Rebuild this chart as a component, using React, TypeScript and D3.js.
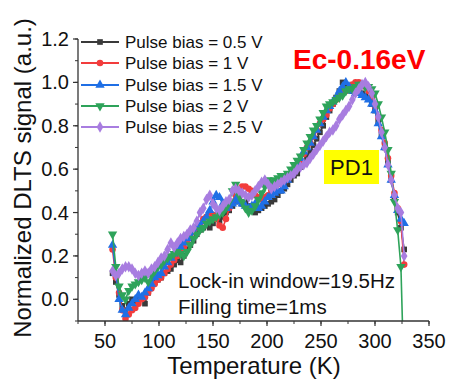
import React from "react";
import * as d3 from "d3";

const temps = [57,60,63,66,69,72,75,78,81,84,87,90,93,96,99,102,105,108,111,114,117,120,123,126,129,132,135,138,141,144,147,150,153,156,159,162,165,168,171,174,177,180,183,186,189,192,195,198,201,204,207,210,213,216,219,222,225,228,231,234,237,240,243,246,249,252,255,258,261,264,267,270,273,276,279,282,285,288,291,294,297,300,303,306,309,312,315,318,321,324,327];

const bias05 = [0.12,0.08,0.02,-0.03,-0.05,-0.02,0.0,-0.01,0.0,0.01,
-0.02,0.03,0.06,0.08,0.09,0.10,0.12,0.13,0.14,0.16,
0.18,0.17,0.20,0.23,0.25,0.27,0.30,0.32,0.33,0.34,
0.33,0.35,0.37,0.36,0.38,0.40,0.41,0.43,0.45,0.46,
0.44,0.45,0.43,0.42,0.40,0.41,0.42,0.43,0.44,0.45,
0.46,0.48,0.50,0.51,0.53,0.55,0.57,0.58,0.61,0.63,
0.66,0.68,0.71,0.74,0.77,0.80,0.84,0.87,0.90,0.93,
0.96,1.0,0.98,0.97,0.96,0.97,0.96,0.95,0.94,0.93,
0.90,0.87,0.82,0.76,0.70,0.63,0.55,0.47,0.40,0.33,
0.23];

const bias1 = [0.23,0.10,0.03,-0.05,-0.09,-0.07,-0.05,-0.04,-0.02,0.0,
0.01,0.03,0.05,0.07,0.09,0.10,0.12,0.14,0.16,0.18,
0.20,0.22,0.24,0.27,0.29,0.31,0.33,0.35,0.37,0.38,
0.40,0.39,0.37,0.34,0.33,0.37,0.42,0.45,0.48,0.51,
0.52,0.52,0.51,0.50,0.48,0.47,0.46,0.47,0.48,0.50,
0.52,0.53,0.55,0.56,0.57,0.58,0.60,0.62,0.64,0.67,
0.70,0.72,0.75,0.78,0.81,0.83,0.85,0.88,0.90,0.92,
0.94,0.95,0.96,0.97,0.99,1.0,1.0,0.99,0.98,0.96,
0.93,0.89,0.84,0.78,0.72,0.65,0.57,0.49,0.42,0.36,
0.16];

const bias15 = [0.25,0.12,0.0,-0.05,-0.07,-0.04,-0.02,0.0,0.02,0.01,
0.03,0.05,0.07,0.10,0.11,0.12,0.15,0.17,0.19,0.21,
0.23,0.24,0.26,0.28,0.29,0.31,0.33,0.34,0.36,0.38,
0.41,0.45,0.48,0.47,0.44,0.42,0.43,0.44,0.46,0.45,
0.44,0.43,0.42,0.43,0.44,0.42,0.43,0.45,0.47,0.48,
0.49,0.50,0.50,0.52,0.55,0.58,0.60,0.62,0.65,0.68,
0.70,0.72,0.75,0.78,0.81,0.84,0.87,0.89,0.91,0.93,
0.96,0.98,1.0,0.98,0.96,0.95,0.95,0.94,0.93,0.92,
0.90,0.87,0.81,0.75,0.70,0.62,0.55,0.48,0.41,0.37,
0.35];

const bias2 = [0.30,0.15,0.06,0.02,0.0,0.04,0.06,0.07,0.08,0.09,
0.10,0.08,0.11,0.13,0.15,0.16,0.18,0.19,0.20,0.21,
0.22,0.21,0.20,0.22,0.25,0.28,0.30,0.32,0.33,0.35,
0.36,0.37,0.38,0.39,0.40,0.42,0.45,0.50,0.53,0.48,
0.45,0.42,0.40,0.41,0.43,0.46,0.49,0.52,0.55,0.54,
0.55,0.56,0.57,0.57,0.58,0.60,0.62,0.64,0.66,0.69,
0.72,0.75,0.78,0.80,0.83,0.86,0.89,0.90,0.91,0.92,
0.93,0.94,0.96,0.97,0.97,0.98,0.99,0.99,0.98,0.98,
0.97,0.95,0.90,0.84,0.77,0.69,0.58,0.45,0.32,0.15,
-0.40];

const bias25 = [0.13,0.11,0.12,0.14,0.15,0.15,0.14,0.12,0.11,0.12,
0.13,0.12,0.14,0.15,0.17,0.19,0.20,0.23,0.26,0.24,
0.26,0.28,0.29,0.30,0.32,0.33,0.36,0.40,0.42,0.46,
0.48,0.44,0.42,0.41,0.43,0.45,0.46,0.50,0.51,0.50,
0.49,0.48,0.47,0.48,0.50,0.52,0.54,0.55,0.53,0.51,
0.52,0.53,0.54,0.55,0.56,0.57,0.58,0.60,0.61,0.62,
0.63,0.65,0.67,0.69,0.71,0.73,0.75,0.77,0.78,0.80,
0.83,0.85,0.87,0.89,0.92,0.95,0.97,0.99,1.0,0.98,
0.95,0.90,0.84,0.77,0.70,0.62,0.55,0.48,0.42,0.40,
0.20];

const seriesNames = ["Pulse bias = 0.5 V","Pulse bias = 1 V","Pulse bias = 1.5 V","Pulse bias = 2 V","Pulse bias = 2.5 V"];
const seriesValues = [bias05, bias1, bias15, bias2, bias25];
const seriesColors = ["#3a3a3a","#f23c3c","#1f6fe5","#2ea35a","#a87de0"];
const xTicks = [50,100,150,200,250,300,350];
const yTicks = [0.0,0.2,0.4,0.6,0.8,1.0,1.2];

const FONT = "'Liberation Sans', Arial, sans-serif";

const L = 78, R = 429, T = 39, B = 321;

function markerPath(i: number): {d: string; rot: number} {
  const types = [d3.symbolSquare, d3.symbolCircle, d3.symbolTriangle, d3.symbolTriangle, d3.symbolDiamond];
  const sizes = [32, 34, 38, 38, 38];
  return { d: d3.symbol().type(types[i]).size(sizes[i])() as string, rot: i === 3 ? 180 : 0 };
}

export default function App() {
  const x = d3.scaleLinear().domain([25, 350]).range([L, R]);
  const y = d3.scaleLinear().domain([-0.1, 1.2]).range([B, T]);
  const line = d3.line<number>().x((_, i) => x(temps[i])).y((v) => y(v));
  const xMinor = d3.range(25, 351, 25);
  const yMinor = d3.range(-0.1, 1.201, 0.1);

  return (
    <svg width={451} height={379} style={{ position: "absolute", left: 0, top: 0, background: "#fff" }} fontFamily={FONT}>
      <defs>
        <clipPath id="plot"><rect x={L} y={T} width={R - L} height={B - T} /></clipPath>
      </defs>
      <rect x={0} y={0} width={451} height={379} fill="#fff" />
      <g clipPath="url(#plot)">
        {seriesValues.map((vals, si) => {
          const m = markerPath(si);
          return (
            <g key={si}>
              <path d={line(vals) as string} fill="none" stroke={seriesColors[si]} strokeWidth={1.6} />
              {vals.map((v, i) => (
                <path key={i} d={m.d} fill={seriesColors[si]}
                  transform={`translate(${x(temps[i])},${y(v)}) rotate(${m.rot})`} />
              ))}
            </g>
          );
        })}
      </g>
      <line x1={L} x2={L} y1={T} y2={B} stroke="#333" strokeWidth={1.3} />
      <line x1={L} x2={R} y1={B} y2={B} stroke="#333" strokeWidth={1.3} />
      {yMinor.map((v, i) => (
        <line key={"ym" + i} x1={L - 3} x2={L} y1={y(v)} y2={y(v)} stroke="#333" strokeWidth={1} />
      ))}
      {yTicks.map((v) => (
        <g key={"yt" + v}>
          <line x1={L - 5} x2={L} y1={y(v)} y2={y(v)} stroke="#333" strokeWidth={1.2} />
          <text x={69} y={y(v) + 7} textAnchor="end" fontSize={20} fill="#111">{v.toFixed(1)}</text>
        </g>
      ))}
      {xMinor.map((v) => (
        <line key={"xm" + v} x1={x(v)} x2={x(v)} y1={B} y2={B + 3} stroke="#333" strokeWidth={1} />
      ))}
      {xTicks.map((v) => (
        <g key={"xt" + v}>
          <line x1={x(v)} x2={x(v)} y1={B} y2={B + 5} stroke="#333" strokeWidth={1.2} />
          <text x={x(v)} y={348} textAnchor="middle" fontSize={20} fill="#111">{v}</text>
        </g>
      ))}
      <text x={254} y={374} textAnchor="middle" fontSize={24} fill="#111">Temperature (K)</text>
      <text transform="translate(31,178) rotate(-90)" textAnchor="middle" fontSize={24} fill="#111">Normalized DLTS signal (a.u.)</text>
      {seriesNames.map((name, i) => {
        const ly = [42, 63, 85, 106, 127][i];
        const m = markerPath(i);
        return (
          <g key={"lg" + i}>
            <line x1={81} x2={119} y1={ly} y2={ly} stroke={seriesColors[i]} strokeWidth={2} />
            <path d={m.d} fill={seriesColors[i]} transform={`translate(100,${ly}) rotate(${m.rot})`} />
            <text x={125} y={ly + 6} fontSize={17} fill="#111">{name}</text>
          </g>
        );
      })}
      <text x={293} y={69} fontSize={28} fontWeight="bold" fill="#f00">Ec-0.16eV</text>
      <rect x={324} y={150} width={55} height={34} fill="#ffff00" />
      <text x={351.5} y={175} textAnchor="middle" fontSize={22} fill="#111">PD1</text>
      <text x={178} y={288} fontSize={20.5} fill="#111">Lock-in window=19.5Hz</text>
      <text x={178} y={314} fontSize={20.5} fill="#111">Filling time=1ms</text>
    </svg>
  );
}
